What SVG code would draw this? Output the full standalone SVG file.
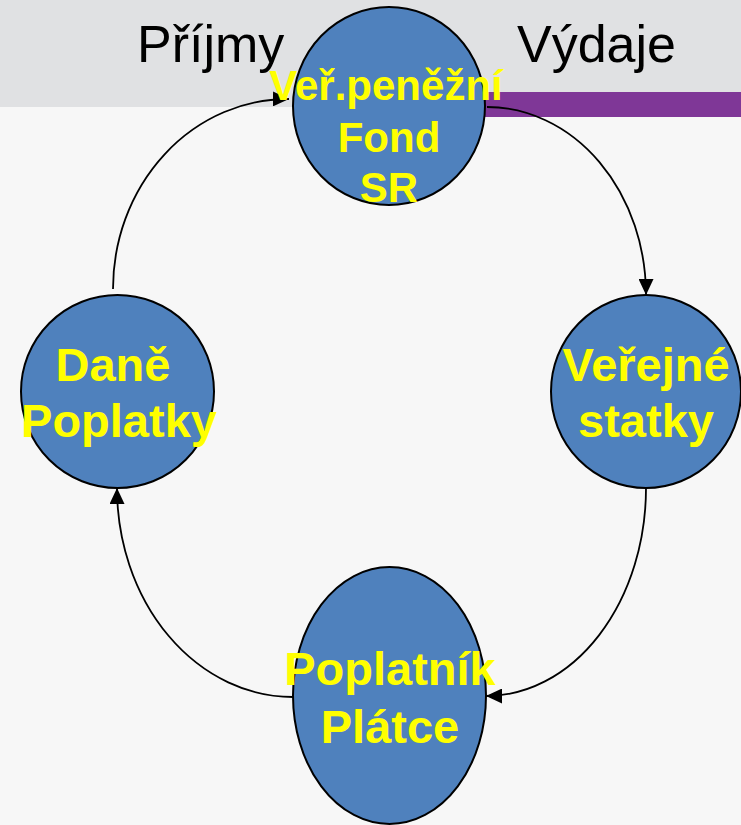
<svg xmlns="http://www.w3.org/2000/svg" width="741" height="825" viewBox="0 0 741 825">
<style>
.node ellipse{fill:#4f81bd;stroke:#000;stroke-width:2}
.node text{font-family:"Liberation Sans",Arial,sans-serif;font-weight:bold;fill:#ffff00;text-anchor:middle}
.hdr{font-family:"Liberation Sans",Arial,sans-serif;font-size:52px;fill:#000}
#connectors path{fill:none;stroke:#000;stroke-width:1.8;marker-end:url(#arr)}
</style>
<defs>
<marker id="arr" markerUnits="userSpaceOnUse" markerWidth="17" markerHeight="15" refX="16" refY="7.5" orient="auto">
<path d="M0,0 L16,7.5 L0,15 z" fill="#000"/>
</marker>
</defs>
<rect x="0" y="0" width="741" height="825" fill="#f7f7f7"/>
<rect x="0" y="0" width="741" height="107" fill="#e0e1e3"/>
<rect x="484" y="92" width="257" height="25" fill="#7f3797"/>
<text class="hdr" x="137" y="62">Příjmy</text>
<text class="hdr" x="517" y="62">Výdaje</text>
<g id="connectors">
<path d="M113,289 A175,190 0 0 1 289,99"/>
<path d="M487,107 A159,188 0 0 1 646,295"/>
<path d="M646,488 A160,208 0 0 1 486,696"/>
<path d="M293,697 A176,209 0 0 1 117,488"/>
</g>
<g id="node-fond" class="node">
<ellipse cx="389" cy="106" rx="96" ry="99"/>
<text font-size="42"><tspan x="386" y="100">Veř.peněžní</tspan><tspan x="389" y="152">Fond</tspan><tspan x="389" y="202">SR</tspan></text>
</g>
<g id="node-dane" class="node">
<ellipse cx="117.5" cy="391.5" rx="96.5" ry="96.5"/>
<text font-size="47"><tspan x="113" y="381">Daně</tspan><tspan x="119" y="437">Poplatky</tspan></text>
</g>
<g id="node-statky" class="node">
<ellipse cx="646" cy="391.5" rx="95" ry="96.5"/>
<text font-size="47"><tspan x="646" y="381">Veřejné</tspan><tspan x="646" y="437">statky</tspan></text>
</g>
<g id="node-poplatnik" class="node">
<ellipse cx="389.5" cy="695.5" rx="96.5" ry="128.5"/>
<text font-size="47"><tspan x="390" y="685">Poplatník</tspan><tspan x="390" y="743">Plátce</tspan></text>
</g>
</svg>
